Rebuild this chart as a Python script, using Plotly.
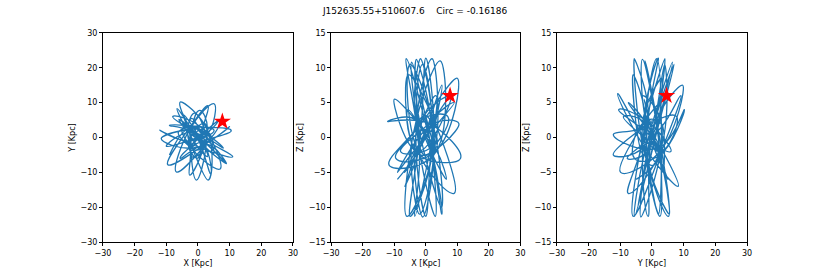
import plotly.graph_objects as go

# Orbit samples (turning points read from the three projections), kpc
X = [7.7, 2.5, -6.8, -2.5, 5.1, 3.0, -3.5, -2.0, -6.2, 2.0, 5.1, -3.0, -12.1, 1.0, 11.0, -2.0,
     -5.6, 3.0, 3.2, -2.5, -1.7, 2.0, -6.0, -3.0, 4.6, 2.5, -11.6, -1.5, 10.0, 3.0, -9.5, -2.5,
     3.2, 1.5, 0.0, -3.0, 2.0, 2.5, -0.5, -2.0, 0.5, 3.0, -2.6, -2.5, -6.6, 2.0, 9.0, -3.0,
     -9.0, 2.5, 10.5, -2.0, -5.6, 3.0, 9.0, -2.5, -5.0, 2.0, 5.0,
     -2.5, -4.5, 2.0, 3.0, -3.0, -1.0, 2.5, -1.0, -2.0, 8.0, -2.5, -10.0, 3.0, 6.5, -2.0,
     -3.0, 2.0, -5.0, -1.5, 0.0, 2.5, -2.0, -2.5, 7.0, 1.5, -8.0, 2.0, 4.0, -2.5, -9.0]
Y = [4.6, -2.0, -9.9, 2.5, 9.7, 1.0, -1.2, -3.0, 1.5, 3.0, 2.0, -1.0, 2.1, -3.0, -5.5, 2.5,
     10.2, 2.0, -12.2, -2.0, -5.6, -2.5, 5.2, 1.5, -2.2, 2.0, -0.3, -3.0, 3.1, -1.5, -7.8, 3.0,
     9.1, 2.5, -5.9, -2.0, 4.1, -3.0, -12.2, 1.5, 7.8, 2.5, -10.8, -1.5, 8.3, -2.5, -7.5, 2.0,
     3.5, 3.0, 2.0, -2.5, -6.0, -2.0, -7.5, 2.5, 4.0, 1.0, -4.5,
     2.0, 6.5, -2.5, -5.5, 2.5, 7.0, -1.5, -3.5, 3.0, -3.0, 1.5, -2.5, 1.5, 5.0, -2.0,
     -3.0, 2.5, 2.5, -2.5, 2.0, -1.5, 5.5, -2.0, -9.0, 2.5, 6.0, -2.0, -10.5, 2.5, -5.0]
Z = [6.0, 2.5, -5.0, -2.0, 7.5, 2.0, -11.3, -2.5, 11.3, -2.0, -11.0, 2.5, 2.3, 2.0, -3.0, -2.5,
     4.0, -1.5, 0.4, 2.0, 11.3, -2.0, -11.3, 2.5, 11.0, -2.5, -4.0, 2.0, 8.5, -2.0, -3.0, 1.5,
     6.0, -2.5, -11.3, 2.0, 11.3, -1.5, -2.5, 2.5, 3.0, -2.0, 6.3, -2.0, -7.0, 2.5, 5.0, -1.5,
     -5.0, 2.0, 2.0, -2.5, 9.0, 2.0, -8.0, -2.0, 10.5, 2.5, -10.0,
     2.0, 10.8, -2.5, -11.3, 2.5, 10.5, -2.0, -11.4, 2.0, 6.0, -2.0, 5.5, -1.5, -6.0, 2.5,
     11.2, -2.0, -11.3, 1.5, 11.4, -2.5, -11.0, 2.0, 3.0, -1.5, -2.0, 2.5, 4.0, -2.0, -6.0]

star_x = [7.7]
star_y = [4.6]
star_z = [6.0]

title = "J152635.55+510607.6    Circ = -0.16186"
blue = "#1f77b4"

fig = go.Figure()
panels = [(X, Y, star_x, star_y, "x", "y"),
          (X, Z, star_x, star_z, "x2", "y2"),
          (Y, Z, star_y, star_z, "x3", "y3")]
for a, b, sa, sb, xa, ya in panels:
    fig.add_trace(go.Scatter(x=a, y=b, mode="lines", xaxis=xa, yaxis=ya,
                             line=dict(color=blue, width=1.3, shape="spline", smoothing=1.3),
                             showlegend=False, hoverinfo="skip"))
    fig.add_trace(go.Scatter(x=sa, y=sb, mode="markers", xaxis=xa, yaxis=ya,
                             marker=dict(symbol="star", size=13, color="red", line=dict(width=0)),
                             showlegend=False))

font = dict(family="DejaVu Sans", size=8, color="black")
ax_common = dict(showline=True, mirror=True, linecolor="black", linewidth=0.8,
                 ticks="outside", ticklen=3, tickwidth=0.8, tickcolor="black",
                 showgrid=False, zeroline=False, tickfont=font, title_font=font,
                 automargin=False)

xdoms = [[0.124, 0.353], [0.399, 0.627], [0.671, 0.900]]
xtitles = ["X [Kpc]", "X [Kpc]", "Y [Kpc]"]
ytitles = ["Y [Kpc]", "Z [Kpc]", "Z [Kpc]"]
yranges = [[-30, 30], [-15, 15], [-15, 15]]
ydticks = [10, 5, 5]
layout = dict(width=830, height=277, margin=dict(l=0, r=0, t=0, b=0, autoexpand=False),
              plot_bgcolor="white", paper_bgcolor="white", font=font,
              title=dict(text=title, x=0.5, y=0.962, xanchor="center", yanchor="middle",
                         font=dict(family="DejaVu Sans", size=9, color="black")))
for i in range(3):
    sx = "" if i == 0 else str(i + 1)
    layout["xaxis" + sx] = dict(domain=xdoms[i], range=[-30, 30], dtick=10, tick0=0,
                                anchor="y" + sx, title=dict(text=xtitles[i], standoff=3), **ax_common)
    layout["yaxis" + sx] = dict(domain=[0.126, 0.881], range=yranges[i], dtick=ydticks[i], tick0=0,
                                anchor="x" + sx, title=dict(text=ytitles[i], standoff=3), **ax_common)
fig.update_layout(**layout)
fig.write_html("out.html", config={"displayModeBar": False},
               post_script="document.body.style.margin='0';document.body.style.overflow='hidden';")
